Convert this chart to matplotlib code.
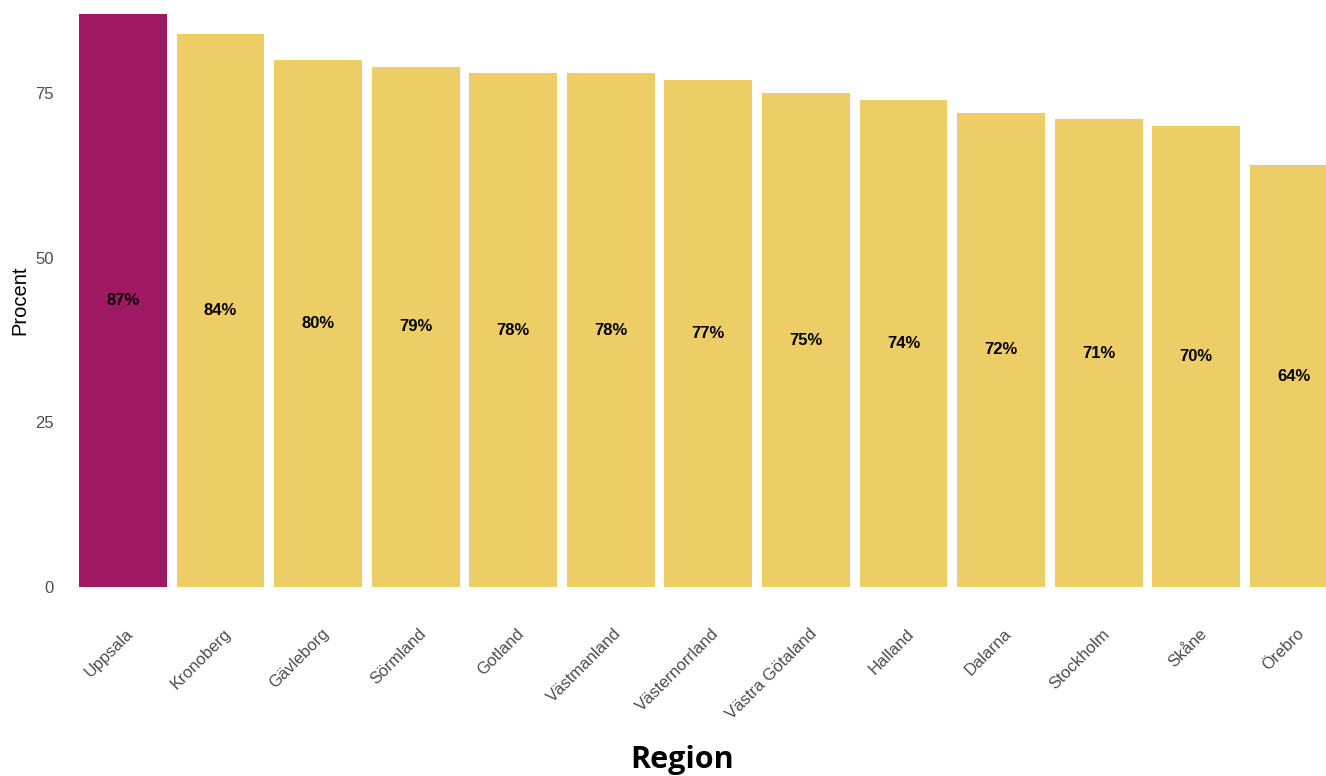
import matplotlib
matplotlib.use("Agg")
import matplotlib.pyplot as plt
import matplotlib.transforms as mtransforms

# Data
regions = ["Uppsala", "Kronoberg", "Gävleborg", "Sörmland", "Gotland", "Västmanland",
           "Västernorrland", "Västra Götaland", "Halland", "Dalarna", "Stockholm",
           "Skåne", "Örebro"]
procent = [87, 84, 80, 79, 78, 78, 77, 75, 74, 72, 71, 70, 64]
highlight = "Uppsala"

colHigh = "#9E1862"
colBase = "#EDCD65"

plt.rcParams['font.family'] = ['Liberation Sans', 'DejaVu Sans']

fig = plt.figure(figsize=(13.26, 7.76), dpi=100)
ax = fig.add_axes([79/1326, 1-587/776, 1-79/1326, (587-14)/776])

x = list(range(len(regions)))
colors = [colHigh if r == highlight else colBase for r in regions]
ax.bar(x, procent, width=0.9, color=colors, linewidth=0)

for xi, v in zip(x, procent):
    ax.text(xi, v/2, f"{v}%", ha='center', va='center', fontsize=12,
            fontweight='bold', color='black')

ax.set_xlim(-0.45, 12.33)
ax.set_ylim(0, 87)
ax.set_yticks([0, 25, 50, 75])
ax.tick_params(axis='y', length=0, pad=18, labelsize=12, labelcolor='#4d4d4d')
ax.tick_params(axis='x', length=0, pad=28, labelsize=12, labelcolor='#4d4d4d')
ax.set_xticks(x)
ax.set_xticklabels(regions, rotation=45, ha='right', va='top', rotation_mode='anchor')
offset = mtransforms.ScaledTranslation(3/100, 0, fig.dpi_scale_trans)
for lbl in ax.get_xticklabels():
    lbl.set_transform(lbl.get_transform() + offset)

for s in ax.spines.values():
    s.set_visible(False)

ax.set_ylabel("Procent", fontsize=14.5, color='black', labelpad=4)
fig.text(682/1326, 1-760/776, "Region", ha='center', va='center', fontsize=22,
         fontweight='bold', family=['Open Sans', 'DejaVu Sans'])

fig.savefig("out.png", dpi=100)
